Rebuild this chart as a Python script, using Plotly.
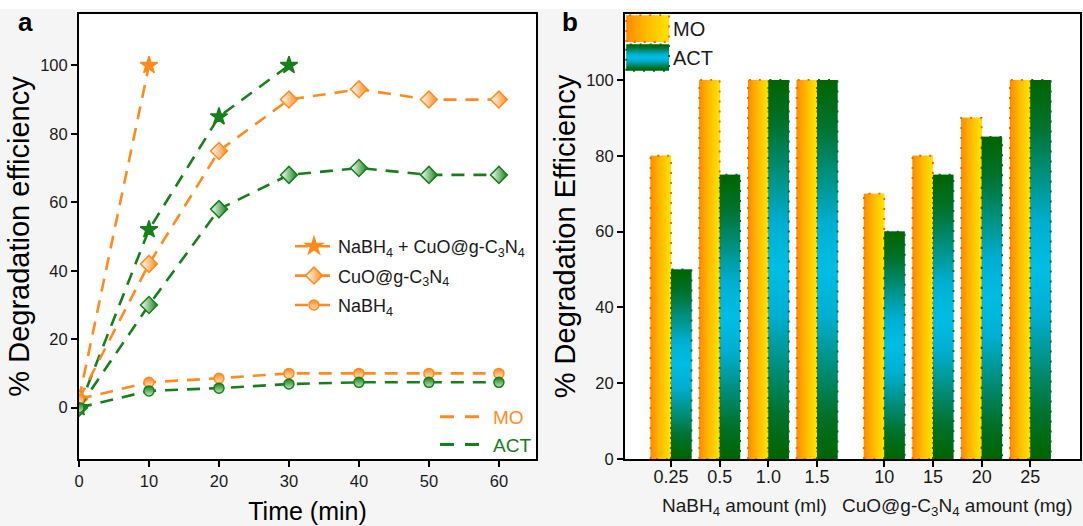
import plotly.graph_objects as go

# ---------------- data (panel a) ----------------
time_star_mo = [0, 10]
mo_star = [2.5, 100]
time_star_act = [0, 10, 20, 30]
act_star = [0, 52, 85, 100]
time = [0, 10, 20, 30, 40, 50, 60]
mo_cuo = [2.5, 42, 75, 90, 93, 90, 90]
act_cuo = [0, 30, 58, 68, 70, 68, 68]
mo_nabh4 = [2.5, 7.4, 8.6, 10, 10, 10, 10]
act_nabh4 = [0, 4.9, 5.7, 6.9, 7.4, 7.4, 7.4]

series_names = ["NaBH<sub>4</sub> + CuO@g-C<sub>3</sub>N<sub>4</sub>",
                "CuO@g-C<sub>3</sub>N<sub>4</sub>",
                "NaBH<sub>4</sub>"]

# ---------------- data (panel b) ----------------
amount_labels = ["0.25", "0.5", "1.0", "1.5", "10", "15", "20", "25"]
mo_bar = [80, 100, 100, 100, 70, 80, 90, 100]
act_bar = [50, 75, 100, 100, 60, 75, 85, 100]
group_titles = ["NaBH<sub>4</sub> amount (ml)",
                "CuO@g-C<sub>3</sub>N<sub>4</sub> amount (mg)"]
group_size = 4

# ---------------- style ----------------
W, H = 1083, 526
ORANGE = "#FF8B1F"
GREEN = "#17801A"
FONT = "Liberation Sans, Arial, sans-serif"
TXT = "#1a1a1a"
DASH = "13px,9px"
GROUP_GAP = 0.38
BAR_W = 0.42

def px_x(p):
    return p / W

def px_y(p):
    return 1 - p / H

fig = go.Figure()

# ---------- panel a: lines ----------
line_sets = [
    (time_star_mo, mo_star, time_star_act, act_star, "star", 13, None),
    (time, mo_cuo, time, act_cuo, "diamond", 13, "horizontal"),
    (time, mo_nabh4, time, act_nabh4, "circle", 10, "vertical"),
]
for k, (tm, ym, ta, ya, sym, size, grad) in enumerate(line_sets):
    for (tx, yy, col, light, show) in [(tm, ym, ORANGE, "#FFE2C2", True),
                                       (ta, ya, GREEN, "#BFE3BF", False)]:
        marker = dict(symbol=sym, size=size, color=col,
                      line=dict(color=col, width=1.5))
        if grad == "horizontal":
            marker["color"] = "white"
            marker["gradient"] = dict(type="horizontal", color=col)
        elif grad == "vertical":
            marker["gradient"] = dict(type="vertical", color=light)
        fig.add_trace(go.Scatter(
            x=tx, y=yy, mode="lines+markers", name=series_names[k],
            line=dict(color=col, width=2.6, dash=DASH),
            marker=marker, xaxis="x", yaxis="y",
            showlegend=show, legend="legend", legendgroup="g%d" % k))

# legend-only entries for dye colours
for nm, col in [("MO", ORANGE), ("ACT", GREEN)]:
    fig.add_trace(go.Scatter(
        x=[None], y=[None], mode="lines",
        name='<span style="color:%s">%s</span>' % (col, nm),
        line=dict(color=col, width=3, dash="14px,11px"),
        xaxis="x", yaxis="y", legend="legend2"))

# ---------- panel b: bars ----------
xpos = [i + (GROUP_GAP if i >= group_size else 0) for i in range(len(amount_labels))]

fig.add_trace(go.Bar(x=xpos, y=mo_bar, name="MO", width=BAR_W, offset=-BAR_W,
                     marker=dict(color="#FFB400", line=dict(width=0)),
                     xaxis="x2", yaxis="y2", showlegend=False))
fig.add_trace(go.Bar(x=xpos, y=act_bar, name="ACT", width=BAR_W, offset=0,
                     marker=dict(color="#0099A8", line=dict(width=0)),
                     xaxis="x2", yaxis="y2", showlegend=False))

MO_GRAD = dict(type="horizontal",
               colorscale=[[0, "#FF8A00"], [0.45, "#FFB800"], [1, "#FFE400"]])
ACT_GRAD = dict(type="vertical",
                colorscale=[[0, "#006400"], [0.12, "#00722C"], [0.38, "#00AFD2"],
                            [0.5, "#00BDE4"], [0.62, "#00AFD2"], [0.88, "#00722C"],
                            [1, "#006400"]])

def add_rect(x0, x1, y0, y1, grad, edge):
    fig.add_trace(go.Scatter(
        x=[x0, x0, x1, x1, x0], y=[y0, y1, y1, y0, y0],
        mode="lines", fill="toself", fillgradient=grad,
        line=dict(color=edge, width=1.8, dash="2px,8px"),
        xaxis="x2", yaxis="y2", showlegend=False, hoverinfo="skip"))

for p, vm, va in zip(xpos, mo_bar, act_bar):
    add_rect(p - BAR_W, p, 0, vm, MO_GRAD, "#FF5E00")
    add_rect(p, p + BAR_W, 0, va, ACT_GRAD, "#0B6A0B")

# manual legend swatches of panel b
add_rect(-0.92, -0.04, 110.0, 117.1, MO_GRAD, "#FF5E00")
add_rect(-0.92, -0.04, 102.4, 109.4, ACT_GRAD, "#0B6A0B")

axis_common = dict(showline=True, linecolor="black", linewidth=2, mirror=True,
                   ticks="outside", ticklen=6, tickwidth=1.6, tickcolor="black",
                   showgrid=False, zeroline=False, automargin=False,
                   tickfont=dict(family=FONT, size=16.5, color=TXT))

annotations = [
    dict(text="<b>a</b>", x=px_x(25), y=px_y(22), xref="paper", yref="paper",
         xanchor="center", yanchor="middle",
         showarrow=False, font=dict(family=FONT, size=26, color="black")),
    dict(text="<b>b</b>", x=px_x(570), y=px_y(22), xref="paper", yref="paper",
         xanchor="center", yanchor="middle",
         showarrow=False, font=dict(family=FONT, size=26, color="black")),
    dict(text="MO", x=0.0, y=113.5, xref="x2", yref="y2", xanchor="left",
         yanchor="middle",
         showarrow=False, font=dict(family=FONT, size=20, color=TXT)),
    dict(text="ACT", x=0.0, y=105.8, xref="x2", yref="y2", xanchor="left",
         yanchor="middle",
         showarrow=False, font=dict(family=FONT, size=20, color=TXT)),
]
for g, title in enumerate(group_titles):
    centre = sum(xpos[g * group_size:(g + 1) * group_size]) / group_size
    annotations.append(dict(text=title, x=centre, y=px_y(507), xref="x2", yref="paper",
                            xanchor="center", yanchor="middle", showarrow=False,
                            font=dict(family=FONT, size=19, color=TXT)))

fig.update_layout(
    width=W, height=H,
    margin=dict(l=0, r=0, t=0, b=0, pad=0, autoexpand=False),
    paper_bgcolor="#F5F5F5", plot_bgcolor="white",
    xaxis=dict(axis_common, domain=[px_x(79), px_x(536)], range=[0, 65.3],
               tickvals=[0, 10, 20, 30, 40, 50, 60], anchor="y",
               title=dict(text="Time (min)", standoff=14,
                          font=dict(family=FONT, size=25, color="black"))),
    yaxis=dict(axis_common, domain=[px_y(459), px_y(14)], range=[-15, 115],
               tickvals=[0, 20, 40, 60, 80, 100], anchor="x",
               title=dict(text="% Degradation efficiency", standoff=2,
                          font=dict(family=FONT, size=29, color="black"))),
    xaxis2=dict(axis_common, domain=[px_x(625), px_x(1080)], range=[-0.945, 8.40],
                tickvals=xpos, ticktext=amount_labels, anchor="y2",
                ticklabelstandoff=-6,
                tickfont=dict(family=FONT, size=18, color=TXT)),
    yaxis2=dict(axis_common, domain=[px_y(459), px_y(14)], range=[0, 117.4],
                tickvals=[0, 20, 40, 60, 80, 100], anchor="x2",
                title=dict(text="% Degradation Efficiency", standoff=2,
                           font=dict(family=FONT, size=29, color="black"))),
    barmode="overlay",
    legend=dict(x=px_x(290), y=px_y(228), xanchor="left", yanchor="top",
                bgcolor="rgba(0,0,0,0)", tracegroupgap=3, itemwidth=38,
                font=dict(family=FONT, size=18, color=TXT)),
    legend2=dict(x=px_x(435), y=px_y(398), xanchor="left", yanchor="top",
                 bgcolor="rgba(0,0,0,0)", itemwidth=48,
                 font=dict(family=FONT, size=19)),
    annotations=annotations,
    shapes=[dict(type="rect", xref="paper", yref="paper", x0=0, x1=1,
                 y0=px_y(9), y1=1, fillcolor="white", line=dict(width=0), layer="below")],
)

fig.write_html("out.html", config={"displayModeBar": False},
               post_script="document.body.style.margin='0';document.body.style.padding='0';")
